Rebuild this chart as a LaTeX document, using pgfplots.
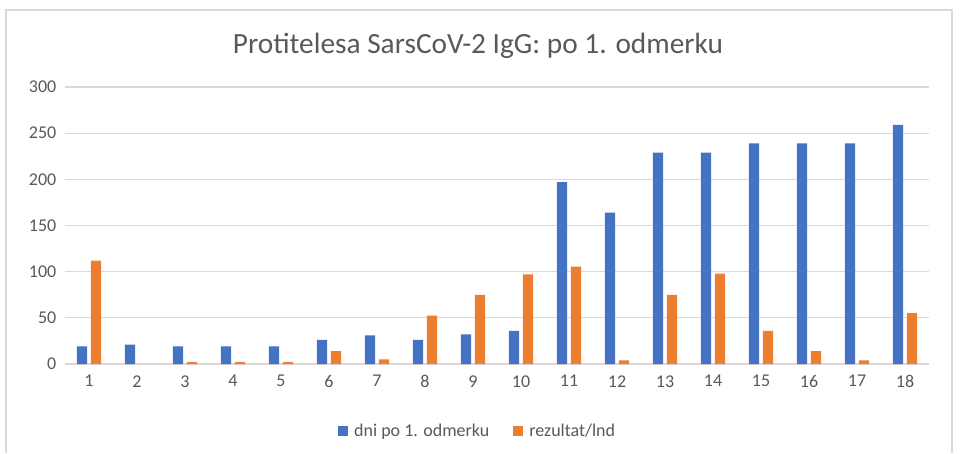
\documentclass[border=0pt]{standalone}
\usepackage{pgfplots}
\pgfplotsset{compat=1.18}
\usepackage{fontspec}
\setmainfont{Carlito}
\definecolor{cblue}{HTML}{4472C4}
\definecolor{corange}{HTML}{ED7D31}
\definecolor{ctext}{HTML}{595959}
\definecolor{cgrid}{HTML}{D9D9D9}
\begin{document}
\begin{tikzpicture}[x=0.75pt,y=0.75pt]
\path (0,0) rectangle (960,453);
\draw[cgrid, line width=1.2pt] (6,0) -- (6,443) -- (952,443) -- (952,0);
\node[text=ctext, font=\fontsize{22}{25}\selectfont] at (478,407) {Protitelesa SarsCoV-2 IgG: po 1. odmerku};
\begin{axis}[
  at={(48.75pt,66.75pt)}, anchor=south west,
  scale only axis, width=648pt, height=207.75pt,
  xmin=0.5, xmax=18.5, ymin=0, ymax=300,
  xtick={1,...,18}, ytick={0,50,...,300},
  ymajorgrids, grid style={cgrid, line width=0.9pt},
  axis line style={draw=none},
  major tick length=0pt,
  ticklabel style={text=ctext, font=\fontsize{13.5}{15}\selectfont},
  /pgf/number format/assume math mode=true,
  yticklabel style={xshift=-3pt},
  xticklabel style={yshift=-5pt},
  ybar, bar width=7.8pt,
  legend style={at={(0.478,-0.242)}, anchor=center, draw=none, legend columns=2,
    font=\fontsize{13.5}{15}\selectfont, text=ctext,
    /tikz/every even column/.append style={column sep=16pt}},
  legend image code/.code={\path (0pt,0pt) -- (10pt,0pt); \fill[#1] (0pt,-3.5pt) rectangle (7pt,3.5pt);},
]
\addplot[fill=cblue, draw=none, bar shift=-5.25pt] coordinates {
(1,19) (2,21) (3,19) (4,19) (5,19) (6,26) (7,31) (8,26) (9,32) (10,36)
(11,197) (12,164) (13,229) (14,229) (15,239) (16,239) (17,239) (18,259)};
\addlegendentry{dni po 1. odmerku}
\addplot[fill=corange, draw=none, bar shift=5.25pt] coordinates {
(1,112) (2,0) (3,2) (4,2) (5,2) (6,14) (7,5) (8,52.5) (9,75) (10,97)
(11,105.5) (12,4) (13,75) (14,98) (15,36) (16,14) (17,4) (18,55)};
\addlegendentry{rezultat/lnd}
\end{axis}
\end{tikzpicture}
\end{document}
